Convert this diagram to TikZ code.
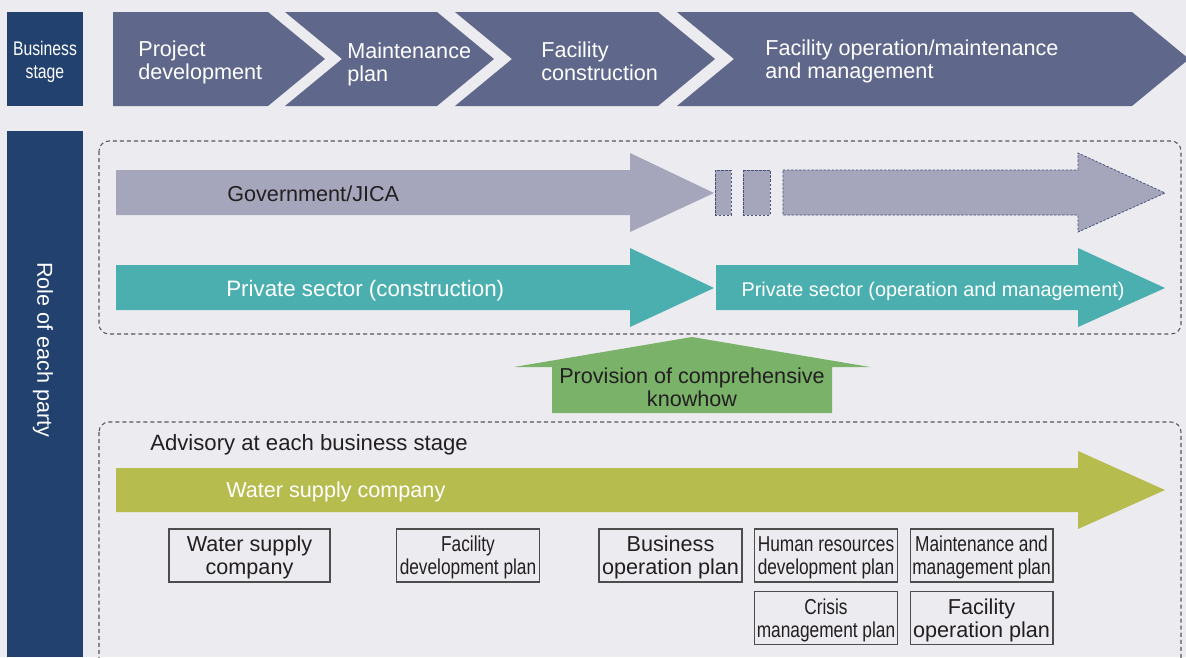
\documentclass[tikz,border=0pt]{standalone}
\usepackage{fontspec}
\setmainfont{Liberation Sans}
\newfontfamily\narrowfont{Liberation Sans}[FakeStretch=0.8]
\usepackage{tikz}
\usetikzlibrary{positioning}

\definecolor{pagebg}{HTML}{ECEBF0}
\definecolor{navyband}{HTML}{22416F}
\definecolor{stageblue}{HTML}{5F678B}
\definecolor{govgray}{HTML}{A5A6BB}
\definecolor{govline}{HTML}{46507A}
\definecolor{privteal}{HTML}{4BAFB0}
\definecolor{knowgreen}{HTML}{7AB26A}
\definecolor{waterolive}{HTML}{B7BC4F}
\definecolor{inktext}{HTML}{231F20}

\tikzset{
	labeltext/.style={font=\fontsize{12.3}{13.1}\selectfont, inner sep=0pt,
		text height=8.8pt, text depth=0pt}
}
\tikzset{
	twolines/.style={text height=21.9pt, text depth=0pt}
}
\tikzset{
	whitetext/.style={labeltext, text=white}
}
\tikzset{
	darktext/.style={labeltext, text=inktext}
}
\tikzset{
	planbox/.style={darktext, twolines, draw=inktext!80, line width=0.6pt, align=center,
		minimum width=2.86cm, minimum height=1.06cm}
}
\tikzset{
	narrowplan/.style={planbox, font=\narrowfont\fontsize{12.3}{13.1}\selectfont}
}
\tikzset{
	dashframe/.style={draw=inktext!75, line width=0.6pt,
		dash pattern=on 2.3pt off 1.7pt, rounded corners=0.2cm}
}
\tikzset{
	dashpiece/.style={fill=govgray, draw=govline, line width=0.45pt,
		dash pattern=on 1.4pt off 0.9pt}
}

\begin{document}
\begin{tikzpicture}[x=0.02cm, y=-0.02cm]
      \clip (0,0) rectangle (1186,657);
      \fill[pagebg] (0,0) rectangle (1186,657);

      % header row: business stages as chevrons
      \fill[navyband] (7,12) rectangle (83,106);
      \node[whitetext, align=center, text height=21.6pt, text depth=0pt,
        font=\narrowfont\fontsize{11.2}{13.6}\selectfont]
        (stagehead) at (45,60) {Business\\stage};
      \fill[stageblue] (113,12) -- (268,12) -- (325,59) -- (268,106) -- (113,106) -- cycle;
      \foreach \xl/\xr in {285/437, 455/658, 677/1132} {
        \fill[stageblue] (\xl,12) -- (\xr,12) -- (\xr+57,59) -- (\xr,106)
          -- (\xl,106) -- (\xl+57,59) -- cycle;
      }
      \node[whitetext, twolines, anchor=west, align=left] (projdev) at (138,60.5) {Project\\development};
      \node[whitetext, twolines, anchor=west, align=left] (mainplan) at (347,62) {Maintenance\\plan};
      \node[whitetext, twolines, anchor=west, align=left] (faccons) at (541,61) {Facility\\construction};
      \node[whitetext, twolines, anchor=west, align=left] (facops) at (765,59.5)
        {Facility operation/maintenance\\and management};

      % left band: role of each party
      \fill[navyband] (7,131) rectangle (83,657);
      \node[whitetext, rotate=-90] (roles) at (45,350) {Role of each party};

      % upper frame: public side and private contractors
      \draw[dashframe] (99,141) rectangle (1181,334);
      \fill[govgray] (116,170) -- (630,170) -- (630,153) -- (714,193)
        -- (630,232) -- (630,215) -- (116,215) -- cycle;
      \filldraw[dashpiece] (715,170) rectangle (731,215);
      \filldraw[dashpiece] (743,170) rectangle (770,215);
      \filldraw[dashpiece] (783,170) -- (1078,170) -- (1078,153) -- (1165,193)
        -- (1078,232) -- (1078,215) -- (783,215) -- cycle;
      \node[darktext, anchor=west] (gov) at (227,193.5) {Government/JICA};

      \fill[privteal] (116,265) -- (630,265) -- (630,248) -- (714,288)
        -- (630,327) -- (630,310) -- (116,310) -- cycle;
      \fill[privteal] (716,265) -- (1078,265) -- (1078,248) -- (1165,288)
        -- (1078,327) -- (1078,310) -- (716,310) -- cycle;
      \node[whitetext, anchor=west, font=\fontsize{12.7}{13.1}\selectfont]
        (privcons) at (226,289) {Private sector (construction)};
      \node[whitetext, font=\fontsize{11.3}{13.1}\selectfont, text height=8.1pt]
        (privops) at (933,289) {Private sector (operation and management)};

      % knowhow pushed up from the water company
      \fill[knowgreen] (552,413) -- (552,367) -- (514,367) -- (692,337)
        -- (870,367) -- (832,367) -- (832,413) -- cycle;
      \node[darktext, twolines, align=center] (knowhow) at (692,387)
        {Provision of comprehensive\\knowhow};

      % lower frame: advisory by the water supply company
      \draw[dashframe] (99,422) rectangle (1181,690);
      \node[darktext, anchor=west, font=\fontsize{12.6}{13.1}\selectfont]
        (advisory) at (150,442.5) {Advisory at each business stage};
      \fill[waterolive] (116,468) -- (1078,468) -- (1078,451) -- (1165,490)
        -- (1078,529) -- (1078,512) -- (116,512) -- cycle;
      \node[whitetext, anchor=west] (water) at (226,490) {Water supply company};

      % plans drawn up at each stage
      \node[planbox, minimum width=3.22cm] (wsco) at (249.5,555.5) {Water supply\\company};
      \node[narrowplan] (facdev) at (468,555.5) {Facility\\development plan};
      \node[planbox] (busops) at (670.5,555.5) {Business\\operation plan};
      \node[narrowplan] (hrdev) at (826,555.5) {Human resources\\development plan};
      \node[narrowplan] (mmplan) at (981.5,555.5) {Maintenance and\\management plan};
      \node[narrowplan] (crisis) at (826,618) {Crisis\\management plan};
      \node[planbox] (facop) at (981.5,618) {Facility\\operation plan};
\end{tikzpicture}
\end{document}
